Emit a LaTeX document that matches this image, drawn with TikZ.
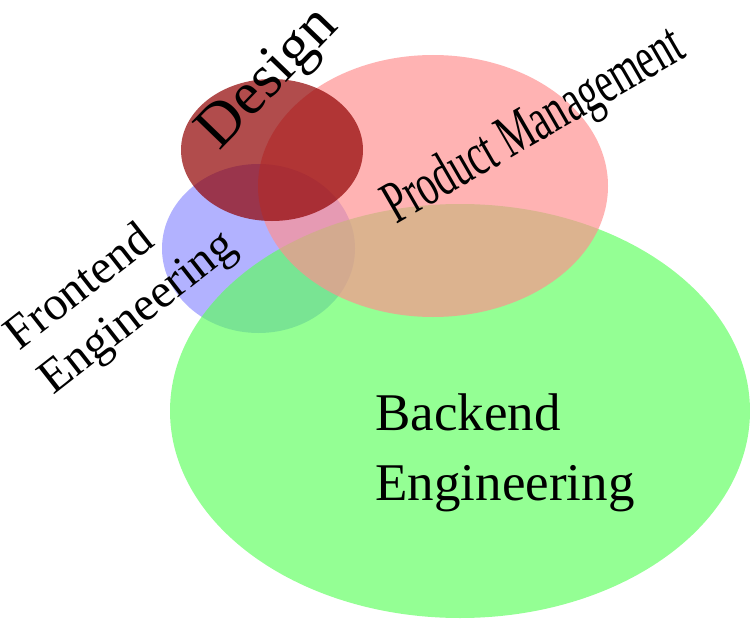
\documentclass[tikz,border=0pt]{standalone}
\usepackage{fontspec}
\setmainfont{Liberation Serif}
\newfontfamily\narrowserif[FakeStretch=0.65]{Liberation Serif}
\usetikzlibrary{shapes.geometric}
\definecolor{setgreen}{RGB}{92,255,92}
\definecolor{setpink}{RGB}{255,142,142}
\definecolor{setblue}{RGB}{0,0,255}
\definecolor{setred}{RGB}{144,0,0}
\tikzset{
    blob/.style={ellipse, draw=none, inner sep=0pt},
    blob_green/.style={blob, fill=setgreen, fill opacity=0.66},
    blob_pink/.style={blob, fill=setpink, fill opacity=0.67},
    blob_blue/.style={blob, fill=setblue, fill opacity=0.3},
    blob_red/.style={blob, fill=setred, fill opacity=0.7},
    label_text/.style={inner sep=0pt, text=black, align=left}
}

\begin{document}
\begin{tikzpicture}[x=1pt, y=-1pt]
    \useasboundingbox (0,0) rectangle (750,623);
    % the four sets
    \node (frontend) [blob_blue, minimum width=193pt, minimum height=169pt] at (258.5,248.5) {};
    \node (backend) [blob_green, minimum width=580pt, minimum height=414pt] at (460,411) {};
    \node (product) [blob_pink, minimum width=350pt, minimum height=262pt] at (433,186) {};
    \node (design) [blob_red, minimum width=182pt, minimum height=142pt] at (272,150) {};

    % labels
    \node (design_label) [label_text, rotate=46, font=\fontsize{61}{63}\selectfont] at (270,80) {Design};
    \node (product_label) [label_text, rotate=30, font=\narrowserif\fontsize{60.5}{63}\selectfont] at (535,128) {Product Management};
    \node (frontend_label) [label_text, rotate=38, font=\fontsize{48}{56}\selectfont] at (122,292) {Frontend\\Engineering};
    \node (backend_label) [label_text, font=\fontsize{53}{70}\selectfont] at (505,453) {Backend\\Engineering};
\end{tikzpicture}
\end{document}
